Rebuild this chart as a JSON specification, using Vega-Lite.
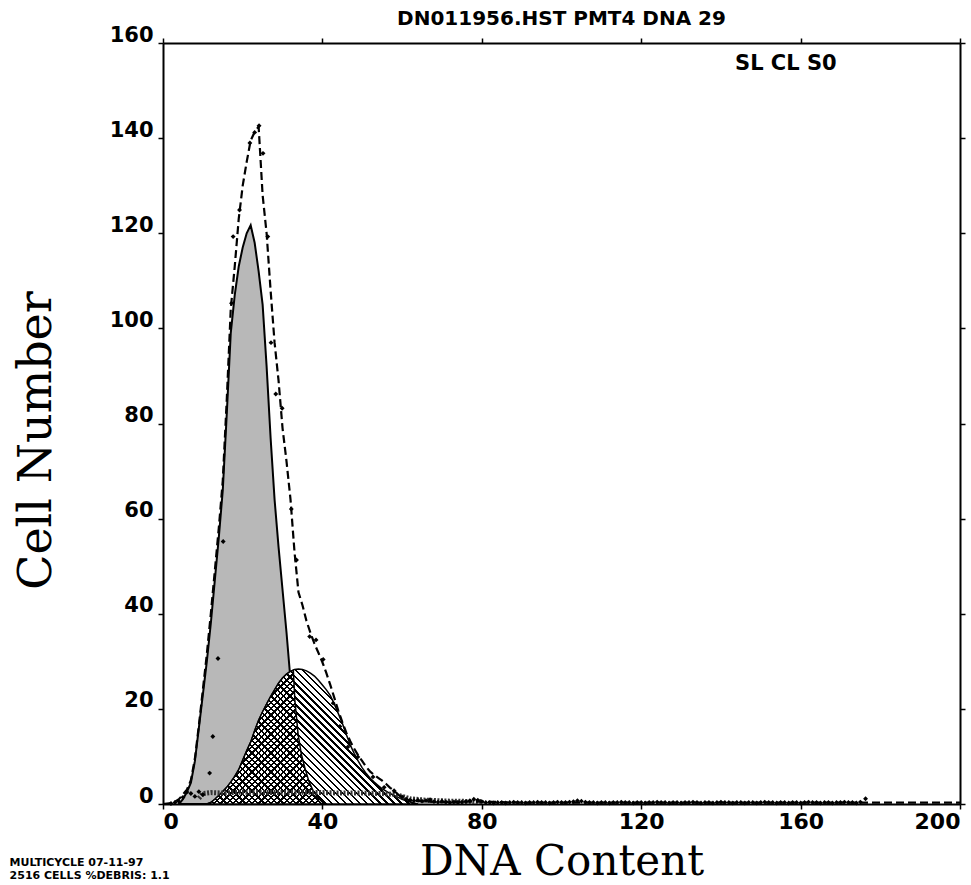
{
  "$schema": "https://vega.github.io/schema/vega-lite/v6.json",
  "width": 797,
  "height": 761,
  "autosize": {"type": "none"},
  "padding": {"left": 163, "top": 43, "right": 11, "bottom": 81},
  "background": "white",
  "config": {
    "view": {"stroke": null},
    "axis": {"domainColor": "black", "domainWidth": 2, "tickColor": "black", "tickWidth": 1.5, "tickSize": 5, "grid": false, "labelColor": "black", "titleColor": "black"}
  },
  "datasets": {
    "g1": [
      {"x": 4, "y": 0}, {"x": 5, "y": 1}, {"x": 6, "y": 2.5}, {"x": 7, "y": 4.5}, {"x": 8, "y": 9}, {"x": 9, "y": 16},
      {"x": 10, "y": 23}, {"x": 11, "y": 30}, {"x": 12, "y": 38}, {"x": 13, "y": 47}, {"x": 14, "y": 56}, {"x": 15, "y": 66},
      {"x": 16, "y": 82}, {"x": 17, "y": 99}, {"x": 18, "y": 107}, {"x": 19, "y": 113}, {"x": 20, "y": 117}, {"x": 21, "y": 120},
      {"x": 22, "y": 121.7}, {"x": 23, "y": 118}, {"x": 24, "y": 112}, {"x": 25, "y": 105}, {"x": 26, "y": 92}, {"x": 27, "y": 77},
      {"x": 28, "y": 64}, {"x": 29, "y": 54}, {"x": 30, "y": 45}, {"x": 31, "y": 36}, {"x": 32, "y": 26}, {"x": 33, "y": 17},
      {"x": 34, "y": 10}, {"x": 35, "y": 5}, {"x": 36, "y": 2}, {"x": 37, "y": 0.5}, {"x": 38, "y": 0}
    ],
    "hump": [
      {"x": 11, "y": 0}, {"x": 12, "y": 0.3}, {"x": 13, "y": 1}, {"x": 14, "y": 1.8}, {"x": 15, "y": 2.6}, {"x": 16, "y": 3.5},
      {"x": 17, "y": 4.6}, {"x": 18, "y": 5.8}, {"x": 19, "y": 7.2}, {"x": 20, "y": 9.2}, {"x": 21, "y": 11.2}, {"x": 22, "y": 13},
      {"x": 23, "y": 15.4}, {"x": 24, "y": 17.6}, {"x": 25, "y": 19.4}, {"x": 26, "y": 21}, {"x": 27, "y": 22.6}, {"x": 28, "y": 24},
      {"x": 29, "y": 25.4}, {"x": 30, "y": 26.5}, {"x": 31, "y": 27.3}, {"x": 32, "y": 27.9}, {"x": 33, "y": 28.3}, {"x": 34, "y": 28.4},
      {"x": 35, "y": 28.3}, {"x": 36, "y": 28}, {"x": 37, "y": 27.5}, {"x": 38, "y": 26.9}, {"x": 39, "y": 26}, {"x": 40, "y": 25},
      {"x": 41, "y": 24}, {"x": 42, "y": 22.8}, {"x": 43, "y": 21}, {"x": 44, "y": 19}, {"x": 45, "y": 17}, {"x": 46, "y": 14.6},
      {"x": 47, "y": 12.4}, {"x": 48, "y": 10.6}, {"x": 49, "y": 9}, {"x": 50, "y": 7.6}, {"x": 51, "y": 6.4}, {"x": 52, "y": 5.4},
      {"x": 53, "y": 4.6}, {"x": 54, "y": 3.9}, {"x": 55, "y": 3.2}, {"x": 56, "y": 2.7}, {"x": 57, "y": 2.2}, {"x": 58, "y": 1.8},
      {"x": 59, "y": 1.4}, {"x": 60, "y": 1}, {"x": 61, "y": 0.7}, {"x": 62, "y": 0.4}, {"x": 63, "y": 0.2}, {"x": 64, "y": 0}
    ],
    "cross": [
      {"x": 11, "y": 0}, {"x": 12, "y": 0.3}, {"x": 13, "y": 1}, {"x": 14, "y": 1.8}, {"x": 15, "y": 2.6}, {"x": 16, "y": 3.5},
      {"x": 17, "y": 4.6}, {"x": 18, "y": 5.8}, {"x": 19, "y": 7.2}, {"x": 20, "y": 9.2}, {"x": 21, "y": 11.2}, {"x": 22, "y": 13},
      {"x": 23, "y": 15.4}, {"x": 24, "y": 17.6}, {"x": 25, "y": 19.4}, {"x": 26, "y": 21}, {"x": 27, "y": 22.6}, {"x": 28, "y": 24},
      {"x": 29, "y": 25.4}, {"x": 30, "y": 26.5}, {"x": 31, "y": 27.3}, {"x": 32, "y": 27.9}, {"x": 32.7, "y": 28.1}, {"x": 33.1, "y": 21.7},
      {"x": 33.9, "y": 14.7}, {"x": 34.7, "y": 10.5}, {"x": 35.6, "y": 7.6}, {"x": 36.6, "y": 4.8}, {"x": 37.7, "y": 2.7}, {"x": 38.9, "y": 1.3},
      {"x": 40, "y": 0.4}, {"x": 41, "y": 0}
    ],
    "debris": [
      {"x": 9, "y": 1.2}, {"x": 10, "y": 2.2}, {"x": 12, "y": 2.4}, {"x": 15, "y": 2.3}, {"x": 20, "y": 2.5}, {"x": 25, "y": 2.4},
      {"x": 30, "y": 2.4}, {"x": 35, "y": 2.5}, {"x": 40, "y": 2.4}, {"x": 45, "y": 2.3}, {"x": 50, "y": 2.3}, {"x": 55, "y": 2.2},
      {"x": 58, "y": 2}, {"x": 60, "y": 1.6}, {"x": 62, "y": 1.1}, {"x": 66, "y": 0.8}, {"x": 72, "y": 0.6}, {"x": 80, "y": 0.5}
    ],
    "fit": [
      {"x": 0, "y": 0}, {"x": 2, "y": 0.2}, {"x": 3, "y": 0.5}, {"x": 4, "y": 1}, {"x": 5, "y": 2}, {"x": 6, "y": 3}, {"x": 7, "y": 5},
      {"x": 8, "y": 9.5}, {"x": 9, "y": 16.5}, {"x": 10, "y": 24}, {"x": 11, "y": 31.5}, {"x": 12, "y": 40}, {"x": 13, "y": 49},
      {"x": 14, "y": 58}, {"x": 15, "y": 68}, {"x": 16, "y": 85}, {"x": 17, "y": 104}, {"x": 18, "y": 113}, {"x": 19, "y": 123},
      {"x": 20, "y": 130}, {"x": 21, "y": 135}, {"x": 22, "y": 139.5}, {"x": 23, "y": 141.3}, {"x": 24, "y": 142.4}, {"x": 25, "y": 128},
      {"x": 26, "y": 120}, {"x": 27, "y": 108}, {"x": 28, "y": 97}, {"x": 29, "y": 89}, {"x": 30, "y": 79}, {"x": 31, "y": 72},
      {"x": 32, "y": 64}, {"x": 33, "y": 53}, {"x": 34, "y": 44.5}, {"x": 35, "y": 41.8}, {"x": 36, "y": 38.5}, {"x": 37, "y": 36},
      {"x": 38, "y": 33.7}, {"x": 39, "y": 31.8}, {"x": 40, "y": 29.8}, {"x": 41, "y": 27.5}, {"x": 42, "y": 25}, {"x": 43, "y": 22.3},
      {"x": 44, "y": 19.6}, {"x": 45, "y": 17.2}, {"x": 46, "y": 15}, {"x": 47, "y": 13.2}, {"x": 48, "y": 11.6}, {"x": 49, "y": 10.2},
      {"x": 50, "y": 9}, {"x": 51, "y": 7.8}, {"x": 52, "y": 6.8}, {"x": 53, "y": 6.1}, {"x": 54, "y": 5.5}, {"x": 55, "y": 4.9},
      {"x": 56, "y": 4.2}, {"x": 57, "y": 3.4}, {"x": 58, "y": 2.8}, {"x": 59, "y": 2}, {"x": 60, "y": 1.3}, {"x": 61, "y": 1},
      {"x": 62, "y": 0.8}, {"x": 64, "y": 0.6}, {"x": 66, "y": 0.5}, {"x": 70, "y": 0.4}, {"x": 75, "y": 0.5}, {"x": 80, "y": 0.5},
      {"x": 90, "y": 0.3}, {"x": 200, "y": 0.3}
    ],
    "dots": [
      {"x": 2, "y": 0.1}, {"x": 3, "y": 0.3}, {"x": 4, "y": 0.5}, {"x": 5, "y": 1.4}, {"x": 6, "y": 2.5}, {"x": 7, "y": 2.2},
      {"x": 8, "y": 1.6}, {"x": 9, "y": 2.6}, {"x": 10, "y": 2}, {"x": 11.7, "y": 6.5}, {"x": 12.5, "y": 14.2}, {"x": 13.8, "y": 30.6},
      {"x": 15.1, "y": 55.2}, {"x": 17.2, "y": 105.3}, {"x": 17.6, "y": 119.3}, {"x": 19.2, "y": 124.9}, {"x": 21.8, "y": 139},
      {"x": 23, "y": 141.2}, {"x": 24.1, "y": 142.6}, {"x": 25.1, "y": 136.8}, {"x": 26.3, "y": 119.3}, {"x": 27.1, "y": 97},
      {"x": 28.3, "y": 86.2}, {"x": 29.9, "y": 83.2}, {"x": 32.2, "y": 62}, {"x": 33.5, "y": 51.3}, {"x": 36.8, "y": 35.2},
      {"x": 38.4, "y": 34.5}, {"x": 40.2, "y": 30.4}, {"x": 42.7, "y": 21.2}, {"x": 44.4, "y": 16.3}, {"x": 46.4, "y": 12},
      {"x": 48.9, "y": 9.9}, {"x": 52.7, "y": 5.7}, {"x": 55.5, "y": 3.5}, {"x": 58, "y": 2.8}, {"x": 60, "y": 1.5},
      {"x": 61, "y": 1.0}, {"x": 62, "y": 0.8}, {"x": 63, "y": 0.7}, {"x": 64, "y": 0.8}, {"x": 65, "y": 0.6}, {"x": 66, "y": 0.7},
      {"x": 67, "y": 0.9}, {"x": 68, "y": 0.5}, {"x": 69, "y": 0.4}, {"x": 70, "y": 0.6}, {"x": 71, "y": 0.4}, {"x": 72, "y": 0.3},
      {"x": 73, "y": 0.4}, {"x": 74, "y": 0.3}, {"x": 75, "y": 0.4}, {"x": 76, "y": 0.5}, {"x": 77, "y": 0.7}, {"x": 78, "y": 1.0},
      {"x": 79, "y": 0.8}, {"x": 80, "y": 0.5}, {"x": 81, "y": 0.3}, {"x": 82, "y": 0.3}, {"x": 83, "y": 0.2}, {"x": 84, "y": 0.3},
      {"x": 85, "y": 0.3}, {"x": 86, "y": 0.2}, {"x": 87, "y": 0.3}, {"x": 88, "y": 0.4}, {"x": 89, "y": 0.3}, {"x": 90, "y": 0.3},
      {"x": 91, "y": 0.2}, {"x": 92, "y": 0.3}, {"x": 93, "y": 0.3}, {"x": 94, "y": 0.4}, {"x": 95, "y": 0.3}, {"x": 96, "y": 0.3},
      {"x": 97, "y": 0.2}, {"x": 98, "y": 0.3}, {"x": 99, "y": 0.4}, {"x": 100, "y": 0.3}, {"x": 101, "y": 0.3}, {"x": 102, "y": 0.4},
      {"x": 103, "y": 0.5}, {"x": 104, "y": 0.7}, {"x": 105, "y": 0.6}, {"x": 106, "y": 0.4}, {"x": 107, "y": 0.3}, {"x": 108, "y": 0.3},
      {"x": 109, "y": 0.2}, {"x": 110, "y": 0.3}, {"x": 111, "y": 0.3}, {"x": 112, "y": 0.2}, {"x": 113, "y": 0.3}, {"x": 114, "y": 0.3},
      {"x": 115, "y": 0.4}, {"x": 116, "y": 0.3}, {"x": 117, "y": 0.3}, {"x": 118, "y": 0.2}, {"x": 119, "y": 0.3}, {"x": 120, "y": 0.3},
      {"x": 121, "y": 0.2}, {"x": 122, "y": 0.3}, {"x": 123, "y": 0.3}, {"x": 124, "y": 0.4}, {"x": 125, "y": 0.3}, {"x": 126, "y": 0.3},
      {"x": 127, "y": 0.2}, {"x": 128, "y": 0.3}, {"x": 129, "y": 0.3}, {"x": 130, "y": 0.2}, {"x": 131, "y": 0.3}, {"x": 132, "y": 0.3},
      {"x": 133, "y": 0.4}, {"x": 134, "y": 0.3}, {"x": 135, "y": 0.2}, {"x": 136, "y": 0.3}, {"x": 137, "y": 0.3}, {"x": 138, "y": 0.2},
      {"x": 139, "y": 0.3}, {"x": 140, "y": 0.4}, {"x": 141, "y": 0.3}, {"x": 142, "y": 0.3}, {"x": 143, "y": 0.2}, {"x": 144, "y": 0.3},
      {"x": 145, "y": 0.3}, {"x": 146, "y": 0.2}, {"x": 147, "y": 0.3}, {"x": 148, "y": 0.3}, {"x": 149, "y": 0.2}, {"x": 150, "y": 0.3},
      {"x": 151, "y": 0.4}, {"x": 152, "y": 0.3}, {"x": 153, "y": 0.3}, {"x": 154, "y": 0.2}, {"x": 155, "y": 0.3}, {"x": 156, "y": 0.3},
      {"x": 157, "y": 0.2}, {"x": 158, "y": 0.3}, {"x": 159, "y": 0.3}, {"x": 160, "y": 0.2}, {"x": 161, "y": 0.3}, {"x": 162, "y": 0.4},
      {"x": 163, "y": 0.3}, {"x": 164, "y": 0.3}, {"x": 165, "y": 0.2}, {"x": 166, "y": 0.3}, {"x": 167, "y": 0.3}, {"x": 168, "y": 0.2},
      {"x": 169, "y": 0.3}, {"x": 170, "y": 0.3}, {"x": 171, "y": 0.4}, {"x": 172, "y": 0.3}, {"x": 173, "y": 0.3}, {"x": 174, "y": 0.2},
      {"x": 175, "y": 0.4}, {"x": 176.3, "y": 1.1}
    ]
  },
  "layer": [
    {
      "data": {"name": "g1"},
      "mark": {"type": "area", "fill": "#b8b8b8", "stroke": "black", "strokeWidth": 2},
      "encoding": {
        "x": {"field": "x", "type": "quantitative", "scale": {"domain": [0, 200], "nice": false},
          "axis": {"orient": "bottom", "values": [0, 40, 80, 120, 160, 200], "labelFont": "DejaVu Sans", "labelFontWeight": "bold", "labelFontSize": 22, "labelPadding": 2, "labelFlush": true,
            "title": "DNA Content", "titleFont": "DejaVu Serif", "titleFontSize": 42, "titleFontWeight": "normal", "titleBaseline": "alphabetic", "titleY": 70}},
        "y": {"field": "y", "type": "quantitative", "scale": {"domain": [0, 160], "nice": false},
          "axis": {"orient": "left", "values": [0, 20, 40, 60, 80, 100, 120, 140, 160], "labelFont": "DejaVu Sans", "labelFontWeight": "bold", "labelFontSize": 21, "labelPadding": 5, "labelBaseline": "alphabetic", "labelOffset": -2,
            "title": "Cell Number", "titleFont": "DejaVu Serif", "titleFontSize": 46, "titleFontWeight": "normal", "titleBaseline": "alphabetic", "titleX": -113, "titleY": 397}}
      }
    },
    {
      "data": {"name": "hump"},
      "mark": {"type": "area", "stroke": "black", "strokeWidth": 1.5,
        "fill": {"gradient": "linear", "x1": 0, "y1": 1, "x2": 1.1636, "y2": 0.2557, "stops": [
          {"offset": 0, "color": "#000"}, {"offset": 0.007, "color": "#000"}, {"offset": 0.007, "color": "#fff"}, {"offset": 0.02, "color": "#fff"},
          {"offset": 0.02, "color": "#000"}, {"offset": 0.027, "color": "#000"}, {"offset": 0.027, "color": "#fff"}, {"offset": 0.04, "color": "#fff"},
          {"offset": 0.04, "color": "#000"}, {"offset": 0.047, "color": "#000"}, {"offset": 0.047, "color": "#fff"}, {"offset": 0.06, "color": "#fff"},
          {"offset": 0.06, "color": "#000"}, {"offset": 0.067, "color": "#000"}, {"offset": 0.067, "color": "#fff"}, {"offset": 0.08, "color": "#fff"},
          {"offset": 0.08, "color": "#000"}, {"offset": 0.087, "color": "#000"}, {"offset": 0.087, "color": "#fff"}, {"offset": 0.1, "color": "#fff"},
          {"offset": 0.1, "color": "#000"}, {"offset": 0.107, "color": "#000"}, {"offset": 0.107, "color": "#fff"}, {"offset": 0.12, "color": "#fff"},
          {"offset": 0.12, "color": "#000"}, {"offset": 0.127, "color": "#000"}, {"offset": 0.127, "color": "#fff"}, {"offset": 0.14, "color": "#fff"},
          {"offset": 0.14, "color": "#000"}, {"offset": 0.147, "color": "#000"}, {"offset": 0.147, "color": "#fff"}, {"offset": 0.16, "color": "#fff"},
          {"offset": 0.16, "color": "#000"}, {"offset": 0.167, "color": "#000"}, {"offset": 0.167, "color": "#fff"}, {"offset": 0.18, "color": "#fff"},
          {"offset": 0.18, "color": "#000"}, {"offset": 0.187, "color": "#000"}, {"offset": 0.187, "color": "#fff"}, {"offset": 0.2, "color": "#fff"},
          {"offset": 0.2, "color": "#000"}, {"offset": 0.207, "color": "#000"}, {"offset": 0.207, "color": "#fff"}, {"offset": 0.22, "color": "#fff"},
          {"offset": 0.22, "color": "#000"}, {"offset": 0.227, "color": "#000"}, {"offset": 0.227, "color": "#fff"}, {"offset": 0.24, "color": "#fff"},
          {"offset": 0.24, "color": "#000"}, {"offset": 0.247, "color": "#000"}, {"offset": 0.247, "color": "#fff"}, {"offset": 0.26, "color": "#fff"},
          {"offset": 0.26, "color": "#000"}, {"offset": 0.267, "color": "#000"}, {"offset": 0.267, "color": "#fff"}, {"offset": 0.28, "color": "#fff"},
          {"offset": 0.28, "color": "#000"}, {"offset": 0.287, "color": "#000"}, {"offset": 0.287, "color": "#fff"}, {"offset": 0.3, "color": "#fff"},
          {"offset": 0.3, "color": "#000"}, {"offset": 0.307, "color": "#000"}, {"offset": 0.307, "color": "#fff"}, {"offset": 0.32, "color": "#fff"},
          {"offset": 0.32, "color": "#000"}, {"offset": 0.327, "color": "#000"}, {"offset": 0.327, "color": "#fff"}, {"offset": 0.34, "color": "#fff"},
          {"offset": 0.34, "color": "#000"}, {"offset": 0.347, "color": "#000"}, {"offset": 0.347, "color": "#fff"}, {"offset": 0.36, "color": "#fff"},
          {"offset": 0.36, "color": "#000"}, {"offset": 0.367, "color": "#000"}, {"offset": 0.367, "color": "#fff"}, {"offset": 0.38, "color": "#fff"},
          {"offset": 0.38, "color": "#000"}, {"offset": 0.387, "color": "#000"}, {"offset": 0.387, "color": "#fff"}, {"offset": 0.4, "color": "#fff"},
          {"offset": 0.4, "color": "#000"}, {"offset": 0.407, "color": "#000"}, {"offset": 0.407, "color": "#fff"}, {"offset": 0.42, "color": "#fff"},
          {"offset": 0.42, "color": "#000"}, {"offset": 0.427, "color": "#000"}, {"offset": 0.427, "color": "#fff"}, {"offset": 0.44, "color": "#fff"},
          {"offset": 0.44, "color": "#000"}, {"offset": 0.447, "color": "#000"}, {"offset": 0.447, "color": "#fff"}, {"offset": 0.46, "color": "#fff"},
          {"offset": 0.46, "color": "#000"}, {"offset": 0.467, "color": "#000"}, {"offset": 0.467, "color": "#fff"}, {"offset": 0.48, "color": "#fff"},
          {"offset": 0.48, "color": "#000"}, {"offset": 0.487, "color": "#000"}, {"offset": 0.487, "color": "#fff"}, {"offset": 0.5, "color": "#fff"},
          {"offset": 0.5, "color": "#000"}, {"offset": 0.507, "color": "#000"}, {"offset": 0.507, "color": "#fff"}, {"offset": 0.52, "color": "#fff"},
          {"offset": 0.52, "color": "#000"}, {"offset": 0.527, "color": "#000"}, {"offset": 0.527, "color": "#fff"}, {"offset": 0.54, "color": "#fff"},
          {"offset": 0.54, "color": "#000"}, {"offset": 0.547, "color": "#000"}, {"offset": 0.547, "color": "#fff"}, {"offset": 0.56, "color": "#fff"},
          {"offset": 0.56, "color": "#000"}, {"offset": 0.567, "color": "#000"}, {"offset": 0.567, "color": "#fff"}, {"offset": 0.58, "color": "#fff"},
          {"offset": 0.58, "color": "#000"}, {"offset": 0.587, "color": "#000"}, {"offset": 0.587, "color": "#fff"}, {"offset": 0.6, "color": "#fff"},
          {"offset": 0.6, "color": "#000"}, {"offset": 0.607, "color": "#000"}, {"offset": 0.607, "color": "#fff"}, {"offset": 0.62, "color": "#fff"},
          {"offset": 0.62, "color": "#000"}, {"offset": 0.627, "color": "#000"}, {"offset": 0.627, "color": "#fff"}, {"offset": 0.64, "color": "#fff"},
          {"offset": 0.64, "color": "#000"}, {"offset": 0.647, "color": "#000"}, {"offset": 0.647, "color": "#fff"}, {"offset": 0.66, "color": "#fff"},
          {"offset": 0.66, "color": "#000"}, {"offset": 0.667, "color": "#000"}, {"offset": 0.667, "color": "#fff"}, {"offset": 0.68, "color": "#fff"},
          {"offset": 0.68, "color": "#000"}, {"offset": 0.687, "color": "#000"}, {"offset": 0.687, "color": "#fff"}, {"offset": 0.7, "color": "#fff"},
          {"offset": 0.7, "color": "#000"}, {"offset": 0.707, "color": "#000"}, {"offset": 0.707, "color": "#fff"}, {"offset": 0.72, "color": "#fff"},
          {"offset": 0.72, "color": "#000"}, {"offset": 0.727, "color": "#000"}, {"offset": 0.727, "color": "#fff"}, {"offset": 0.74, "color": "#fff"},
          {"offset": 0.74, "color": "#000"}, {"offset": 0.747, "color": "#000"}, {"offset": 0.747, "color": "#fff"}, {"offset": 0.76, "color": "#fff"},
          {"offset": 0.76, "color": "#000"}, {"offset": 0.767, "color": "#000"}, {"offset": 0.767, "color": "#fff"}, {"offset": 0.78, "color": "#fff"},
          {"offset": 0.78, "color": "#000"}, {"offset": 0.787, "color": "#000"}, {"offset": 0.787, "color": "#fff"}, {"offset": 0.8, "color": "#fff"},
          {"offset": 0.8, "color": "#000"}, {"offset": 0.807, "color": "#000"}, {"offset": 0.807, "color": "#fff"}, {"offset": 0.82, "color": "#fff"},
          {"offset": 0.82, "color": "#000"}, {"offset": 0.827, "color": "#000"}, {"offset": 0.827, "color": "#fff"}, {"offset": 0.84, "color": "#fff"},
          {"offset": 0.84, "color": "#000"}, {"offset": 0.847, "color": "#000"}, {"offset": 0.847, "color": "#fff"}, {"offset": 0.86, "color": "#fff"},
          {"offset": 0.86, "color": "#000"}, {"offset": 0.867, "color": "#000"}, {"offset": 0.867, "color": "#fff"}, {"offset": 0.88, "color": "#fff"},
          {"offset": 0.88, "color": "#000"}, {"offset": 0.887, "color": "#000"}, {"offset": 0.887, "color": "#fff"}, {"offset": 0.9, "color": "#fff"},
          {"offset": 0.9, "color": "#000"}, {"offset": 0.907, "color": "#000"}, {"offset": 0.907, "color": "#fff"}, {"offset": 0.92, "color": "#fff"},
          {"offset": 0.92, "color": "#000"}, {"offset": 0.927, "color": "#000"}, {"offset": 0.927, "color": "#fff"}, {"offset": 0.94, "color": "#fff"},
          {"offset": 0.94, "color": "#000"}, {"offset": 0.947, "color": "#000"}, {"offset": 0.947, "color": "#fff"}, {"offset": 0.96, "color": "#fff"},
          {"offset": 0.96, "color": "#000"}, {"offset": 0.967, "color": "#000"}, {"offset": 0.967, "color": "#fff"}, {"offset": 0.98, "color": "#fff"},
          {"offset": 0.98, "color": "#000"}, {"offset": 0.987, "color": "#000"}, {"offset": 0.987, "color": "#fff"}, {"offset": 1, "color": "#fff"}
        ]}},
      "encoding": {
        "x": {"field": "x", "type": "quantitative", "scale": {"domain": [0, 200], "nice": false},
          "axis": {"orient": "top", "values": [0, 40, 80, 120, 160, 200], "labels": false, "title": null}},
        "y": {"field": "y", "type": "quantitative", "scale": {"domain": [0, 160], "nice": false},
          "axis": {"orient": "right", "values": [0, 20, 40, 60, 80, 100, 120, 140, 160], "labels": false, "title": null}}
      }
    },
    {
      "data": {"name": "cross"},
      "mark": {"type": "area", "stroke": "black", "strokeWidth": 1.5,
        "fill": {"gradient": "linear", "x1": 0, "y1": 1, "x2": 0.9418, "y2": -0.052, "stops": [
          {"offset": 0, "color": "#000"}, {"offset": 0.009, "color": "#000"}, {"offset": 0.009, "color": "#fff"}, {"offset": 0.025, "color": "#fff"},
          {"offset": 0.025, "color": "#000"}, {"offset": 0.034, "color": "#000"}, {"offset": 0.034, "color": "#fff"}, {"offset": 0.05, "color": "#fff"},
          {"offset": 0.05, "color": "#000"}, {"offset": 0.059, "color": "#000"}, {"offset": 0.059, "color": "#fff"}, {"offset": 0.075, "color": "#fff"},
          {"offset": 0.075, "color": "#000"}, {"offset": 0.084, "color": "#000"}, {"offset": 0.084, "color": "#fff"}, {"offset": 0.1, "color": "#fff"},
          {"offset": 0.1, "color": "#000"}, {"offset": 0.109, "color": "#000"}, {"offset": 0.109, "color": "#fff"}, {"offset": 0.125, "color": "#fff"},
          {"offset": 0.125, "color": "#000"}, {"offset": 0.134, "color": "#000"}, {"offset": 0.134, "color": "#fff"}, {"offset": 0.15, "color": "#fff"},
          {"offset": 0.15, "color": "#000"}, {"offset": 0.159, "color": "#000"}, {"offset": 0.159, "color": "#fff"}, {"offset": 0.175, "color": "#fff"},
          {"offset": 0.175, "color": "#000"}, {"offset": 0.184, "color": "#000"}, {"offset": 0.184, "color": "#fff"}, {"offset": 0.2, "color": "#fff"},
          {"offset": 0.2, "color": "#000"}, {"offset": 0.209, "color": "#000"}, {"offset": 0.209, "color": "#fff"}, {"offset": 0.225, "color": "#fff"},
          {"offset": 0.225, "color": "#000"}, {"offset": 0.234, "color": "#000"}, {"offset": 0.234, "color": "#fff"}, {"offset": 0.25, "color": "#fff"},
          {"offset": 0.25, "color": "#000"}, {"offset": 0.259, "color": "#000"}, {"offset": 0.259, "color": "#fff"}, {"offset": 0.275, "color": "#fff"},
          {"offset": 0.275, "color": "#000"}, {"offset": 0.284, "color": "#000"}, {"offset": 0.284, "color": "#fff"}, {"offset": 0.3, "color": "#fff"},
          {"offset": 0.3, "color": "#000"}, {"offset": 0.309, "color": "#000"}, {"offset": 0.309, "color": "#fff"}, {"offset": 0.325, "color": "#fff"},
          {"offset": 0.325, "color": "#000"}, {"offset": 0.334, "color": "#000"}, {"offset": 0.334, "color": "#fff"}, {"offset": 0.35, "color": "#fff"},
          {"offset": 0.35, "color": "#000"}, {"offset": 0.359, "color": "#000"}, {"offset": 0.359, "color": "#fff"}, {"offset": 0.375, "color": "#fff"},
          {"offset": 0.375, "color": "#000"}, {"offset": 0.384, "color": "#000"}, {"offset": 0.384, "color": "#fff"}, {"offset": 0.4, "color": "#fff"},
          {"offset": 0.4, "color": "#000"}, {"offset": 0.409, "color": "#000"}, {"offset": 0.409, "color": "#fff"}, {"offset": 0.425, "color": "#fff"},
          {"offset": 0.425, "color": "#000"}, {"offset": 0.434, "color": "#000"}, {"offset": 0.434, "color": "#fff"}, {"offset": 0.45, "color": "#fff"},
          {"offset": 0.45, "color": "#000"}, {"offset": 0.459, "color": "#000"}, {"offset": 0.459, "color": "#fff"}, {"offset": 0.475, "color": "#fff"},
          {"offset": 0.475, "color": "#000"}, {"offset": 0.484, "color": "#000"}, {"offset": 0.484, "color": "#fff"}, {"offset": 0.5, "color": "#fff"},
          {"offset": 0.5, "color": "#000"}, {"offset": 0.509, "color": "#000"}, {"offset": 0.509, "color": "#fff"}, {"offset": 0.525, "color": "#fff"},
          {"offset": 0.525, "color": "#000"}, {"offset": 0.534, "color": "#000"}, {"offset": 0.534, "color": "#fff"}, {"offset": 0.55, "color": "#fff"},
          {"offset": 0.55, "color": "#000"}, {"offset": 0.559, "color": "#000"}, {"offset": 0.559, "color": "#fff"}, {"offset": 0.575, "color": "#fff"},
          {"offset": 0.575, "color": "#000"}, {"offset": 0.584, "color": "#000"}, {"offset": 0.584, "color": "#fff"}, {"offset": 0.6, "color": "#fff"},
          {"offset": 0.6, "color": "#000"}, {"offset": 0.609, "color": "#000"}, {"offset": 0.609, "color": "#fff"}, {"offset": 0.625, "color": "#fff"},
          {"offset": 0.625, "color": "#000"}, {"offset": 0.634, "color": "#000"}, {"offset": 0.634, "color": "#fff"}, {"offset": 0.65, "color": "#fff"},
          {"offset": 0.65, "color": "#000"}, {"offset": 0.659, "color": "#000"}, {"offset": 0.659, "color": "#fff"}, {"offset": 0.675, "color": "#fff"},
          {"offset": 0.675, "color": "#000"}, {"offset": 0.684, "color": "#000"}, {"offset": 0.684, "color": "#fff"}, {"offset": 0.7, "color": "#fff"},
          {"offset": 0.7, "color": "#000"}, {"offset": 0.709, "color": "#000"}, {"offset": 0.709, "color": "#fff"}, {"offset": 0.725, "color": "#fff"},
          {"offset": 0.725, "color": "#000"}, {"offset": 0.734, "color": "#000"}, {"offset": 0.734, "color": "#fff"}, {"offset": 0.75, "color": "#fff"},
          {"offset": 0.75, "color": "#000"}, {"offset": 0.759, "color": "#000"}, {"offset": 0.759, "color": "#fff"}, {"offset": 0.775, "color": "#fff"},
          {"offset": 0.775, "color": "#000"}, {"offset": 0.784, "color": "#000"}, {"offset": 0.784, "color": "#fff"}, {"offset": 0.8, "color": "#fff"},
          {"offset": 0.8, "color": "#000"}, {"offset": 0.809, "color": "#000"}, {"offset": 0.809, "color": "#fff"}, {"offset": 0.825, "color": "#fff"},
          {"offset": 0.825, "color": "#000"}, {"offset": 0.834, "color": "#000"}, {"offset": 0.834, "color": "#fff"}, {"offset": 0.85, "color": "#fff"},
          {"offset": 0.85, "color": "#000"}, {"offset": 0.859, "color": "#000"}, {"offset": 0.859, "color": "#fff"}, {"offset": 0.875, "color": "#fff"},
          {"offset": 0.875, "color": "#000"}, {"offset": 0.884, "color": "#000"}, {"offset": 0.884, "color": "#fff"}, {"offset": 0.9, "color": "#fff"},
          {"offset": 0.9, "color": "#000"}, {"offset": 0.909, "color": "#000"}, {"offset": 0.909, "color": "#fff"}, {"offset": 0.925, "color": "#fff"},
          {"offset": 0.925, "color": "#000"}, {"offset": 0.934, "color": "#000"}, {"offset": 0.934, "color": "#fff"}, {"offset": 0.95, "color": "#fff"},
          {"offset": 0.95, "color": "#000"}, {"offset": 0.959, "color": "#000"}, {"offset": 0.959, "color": "#fff"}, {"offset": 0.975, "color": "#fff"},
          {"offset": 0.975, "color": "#000"}, {"offset": 0.984, "color": "#000"}, {"offset": 0.984, "color": "#fff"}, {"offset": 1, "color": "#fff"}
        ]}},
      "encoding": {
        "x": {"field": "x", "type": "quantitative", "axis": null},
        "y": {"field": "y", "type": "quantitative", "axis": null}
      }
    },
    {
      "data": {"name": "cross"},
      "mark": {"type": "area", "strokeWidth": 0,
        "fill": {"gradient": "linear", "x1": 0, "y1": 0, "x2": 0.9418, "y2": 1.052, "stops": [
          {"offset": 0, "color": "#000"}, {"offset": 0.009, "color": "#000"}, {"offset": 0.009, "color": "rgba(255,255,255,0)"}, {"offset": 0.025, "color": "rgba(255,255,255,0)"},
          {"offset": 0.025, "color": "#000"}, {"offset": 0.034, "color": "#000"}, {"offset": 0.034, "color": "rgba(255,255,255,0)"}, {"offset": 0.05, "color": "rgba(255,255,255,0)"},
          {"offset": 0.05, "color": "#000"}, {"offset": 0.059, "color": "#000"}, {"offset": 0.059, "color": "rgba(255,255,255,0)"}, {"offset": 0.075, "color": "rgba(255,255,255,0)"},
          {"offset": 0.075, "color": "#000"}, {"offset": 0.084, "color": "#000"}, {"offset": 0.084, "color": "rgba(255,255,255,0)"}, {"offset": 0.1, "color": "rgba(255,255,255,0)"},
          {"offset": 0.1, "color": "#000"}, {"offset": 0.109, "color": "#000"}, {"offset": 0.109, "color": "rgba(255,255,255,0)"}, {"offset": 0.125, "color": "rgba(255,255,255,0)"},
          {"offset": 0.125, "color": "#000"}, {"offset": 0.134, "color": "#000"}, {"offset": 0.134, "color": "rgba(255,255,255,0)"}, {"offset": 0.15, "color": "rgba(255,255,255,0)"},
          {"offset": 0.15, "color": "#000"}, {"offset": 0.159, "color": "#000"}, {"offset": 0.159, "color": "rgba(255,255,255,0)"}, {"offset": 0.175, "color": "rgba(255,255,255,0)"},
          {"offset": 0.175, "color": "#000"}, {"offset": 0.184, "color": "#000"}, {"offset": 0.184, "color": "rgba(255,255,255,0)"}, {"offset": 0.2, "color": "rgba(255,255,255,0)"},
          {"offset": 0.2, "color": "#000"}, {"offset": 0.209, "color": "#000"}, {"offset": 0.209, "color": "rgba(255,255,255,0)"}, {"offset": 0.225, "color": "rgba(255,255,255,0)"},
          {"offset": 0.225, "color": "#000"}, {"offset": 0.234, "color": "#000"}, {"offset": 0.234, "color": "rgba(255,255,255,0)"}, {"offset": 0.25, "color": "rgba(255,255,255,0)"},
          {"offset": 0.25, "color": "#000"}, {"offset": 0.259, "color": "#000"}, {"offset": 0.259, "color": "rgba(255,255,255,0)"}, {"offset": 0.275, "color": "rgba(255,255,255,0)"},
          {"offset": 0.275, "color": "#000"}, {"offset": 0.284, "color": "#000"}, {"offset": 0.284, "color": "rgba(255,255,255,0)"}, {"offset": 0.3, "color": "rgba(255,255,255,0)"},
          {"offset": 0.3, "color": "#000"}, {"offset": 0.309, "color": "#000"}, {"offset": 0.309, "color": "rgba(255,255,255,0)"}, {"offset": 0.325, "color": "rgba(255,255,255,0)"},
          {"offset": 0.325, "color": "#000"}, {"offset": 0.334, "color": "#000"}, {"offset": 0.334, "color": "rgba(255,255,255,0)"}, {"offset": 0.35, "color": "rgba(255,255,255,0)"},
          {"offset": 0.35, "color": "#000"}, {"offset": 0.359, "color": "#000"}, {"offset": 0.359, "color": "rgba(255,255,255,0)"}, {"offset": 0.375, "color": "rgba(255,255,255,0)"},
          {"offset": 0.375, "color": "#000"}, {"offset": 0.384, "color": "#000"}, {"offset": 0.384, "color": "rgba(255,255,255,0)"}, {"offset": 0.4, "color": "rgba(255,255,255,0)"},
          {"offset": 0.4, "color": "#000"}, {"offset": 0.409, "color": "#000"}, {"offset": 0.409, "color": "rgba(255,255,255,0)"}, {"offset": 0.425, "color": "rgba(255,255,255,0)"},
          {"offset": 0.425, "color": "#000"}, {"offset": 0.434, "color": "#000"}, {"offset": 0.434, "color": "rgba(255,255,255,0)"}, {"offset": 0.45, "color": "rgba(255,255,255,0)"},
          {"offset": 0.45, "color": "#000"}, {"offset": 0.459, "color": "#000"}, {"offset": 0.459, "color": "rgba(255,255,255,0)"}, {"offset": 0.475, "color": "rgba(255,255,255,0)"},
          {"offset": 0.475, "color": "#000"}, {"offset": 0.484, "color": "#000"}, {"offset": 0.484, "color": "rgba(255,255,255,0)"}, {"offset": 0.5, "color": "rgba(255,255,255,0)"},
          {"offset": 0.5, "color": "#000"}, {"offset": 0.509, "color": "#000"}, {"offset": 0.509, "color": "rgba(255,255,255,0)"}, {"offset": 0.525, "color": "rgba(255,255,255,0)"},
          {"offset": 0.525, "color": "#000"}, {"offset": 0.534, "color": "#000"}, {"offset": 0.534, "color": "rgba(255,255,255,0)"}, {"offset": 0.55, "color": "rgba(255,255,255,0)"},
          {"offset": 0.55, "color": "#000"}, {"offset": 0.559, "color": "#000"}, {"offset": 0.559, "color": "rgba(255,255,255,0)"}, {"offset": 0.575, "color": "rgba(255,255,255,0)"},
          {"offset": 0.575, "color": "#000"}, {"offset": 0.584, "color": "#000"}, {"offset": 0.584, "color": "rgba(255,255,255,0)"}, {"offset": 0.6, "color": "rgba(255,255,255,0)"},
          {"offset": 0.6, "color": "#000"}, {"offset": 0.609, "color": "#000"}, {"offset": 0.609, "color": "rgba(255,255,255,0)"}, {"offset": 0.625, "color": "rgba(255,255,255,0)"},
          {"offset": 0.625, "color": "#000"}, {"offset": 0.634, "color": "#000"}, {"offset": 0.634, "color": "rgba(255,255,255,0)"}, {"offset": 0.65, "color": "rgba(255,255,255,0)"},
          {"offset": 0.65, "color": "#000"}, {"offset": 0.659, "color": "#000"}, {"offset": 0.659, "color": "rgba(255,255,255,0)"}, {"offset": 0.675, "color": "rgba(255,255,255,0)"},
          {"offset": 0.675, "color": "#000"}, {"offset": 0.684, "color": "#000"}, {"offset": 0.684, "color": "rgba(255,255,255,0)"}, {"offset": 0.7, "color": "rgba(255,255,255,0)"},
          {"offset": 0.7, "color": "#000"}, {"offset": 0.709, "color": "#000"}, {"offset": 0.709, "color": "rgba(255,255,255,0)"}, {"offset": 0.725, "color": "rgba(255,255,255,0)"},
          {"offset": 0.725, "color": "#000"}, {"offset": 0.734, "color": "#000"}, {"offset": 0.734, "color": "rgba(255,255,255,0)"}, {"offset": 0.75, "color": "rgba(255,255,255,0)"},
          {"offset": 0.75, "color": "#000"}, {"offset": 0.759, "color": "#000"}, {"offset": 0.759, "color": "rgba(255,255,255,0)"}, {"offset": 0.775, "color": "rgba(255,255,255,0)"},
          {"offset": 0.775, "color": "#000"}, {"offset": 0.784, "color": "#000"}, {"offset": 0.784, "color": "rgba(255,255,255,0)"}, {"offset": 0.8, "color": "rgba(255,255,255,0)"},
          {"offset": 0.8, "color": "#000"}, {"offset": 0.809, "color": "#000"}, {"offset": 0.809, "color": "rgba(255,255,255,0)"}, {"offset": 0.825, "color": "rgba(255,255,255,0)"},
          {"offset": 0.825, "color": "#000"}, {"offset": 0.834, "color": "#000"}, {"offset": 0.834, "color": "rgba(255,255,255,0)"}, {"offset": 0.85, "color": "rgba(255,255,255,0)"},
          {"offset": 0.85, "color": "#000"}, {"offset": 0.859, "color": "#000"}, {"offset": 0.859, "color": "rgba(255,255,255,0)"}, {"offset": 0.875, "color": "rgba(255,255,255,0)"},
          {"offset": 0.875, "color": "#000"}, {"offset": 0.884, "color": "#000"}, {"offset": 0.884, "color": "rgba(255,255,255,0)"}, {"offset": 0.9, "color": "rgba(255,255,255,0)"},
          {"offset": 0.9, "color": "#000"}, {"offset": 0.909, "color": "#000"}, {"offset": 0.909, "color": "rgba(255,255,255,0)"}, {"offset": 0.925, "color": "rgba(255,255,255,0)"},
          {"offset": 0.925, "color": "#000"}, {"offset": 0.934, "color": "#000"}, {"offset": 0.934, "color": "rgba(255,255,255,0)"}, {"offset": 0.95, "color": "rgba(255,255,255,0)"},
          {"offset": 0.95, "color": "#000"}, {"offset": 0.959, "color": "#000"}, {"offset": 0.959, "color": "rgba(255,255,255,0)"}, {"offset": 0.975, "color": "rgba(255,255,255,0)"},
          {"offset": 0.975, "color": "#000"}, {"offset": 0.984, "color": "#000"}, {"offset": 0.984, "color": "rgba(255,255,255,0)"}, {"offset": 1, "color": "rgba(255,255,255,0)"}
        ]}},
      "encoding": {
        "x": {"field": "x", "type": "quantitative", "axis": null},
        "y": {"field": "y", "type": "quantitative", "axis": null}
      }
    },
    {
      "data": {"name": "debris"},
      "mark": {"type": "line", "color": "#333", "strokeWidth": 5, "strokeDash": [2, 1.5]},
      "encoding": {
        "x": {"field": "x", "type": "quantitative", "axis": null},
        "y": {"field": "y", "type": "quantitative", "axis": null}
      }
    },
    {
      "data": {"name": "fit"},
      "mark": {"type": "line", "color": "black", "strokeWidth": 2.2, "strokeDash": [8, 4]},
      "encoding": {
        "x": {"field": "x", "type": "quantitative", "axis": null},
        "y": {"field": "y", "type": "quantitative", "axis": null}
      }
    },
    {
      "data": {"name": "dots"},
      "mark": {"type": "point", "shape": "diamond", "filled": true, "size": 24, "color": "black", "opacity": 1},
      "encoding": {
        "x": {"field": "x", "type": "quantitative", "axis": null},
        "y": {"field": "y", "type": "quantitative", "axis": null}
      }
    },
    {
      "data": {"values": [{}]},
      "mark": {"type": "text", "text": "DN011956.HST PMT4 DNA 29", "font": "DejaVu Sans", "fontSize": 20, "fontWeight": "bold", "align": "center", "baseline": "alphabetic", "color": "black"},
      "encoding": {
        "x": {"datum": 100, "type": "quantitative", "axis": null},
        "y": {"datum": 163.8, "type": "quantitative", "axis": null}
      }
    },
    {
      "data": {"values": [{}]},
      "mark": {"type": "text", "text": "SL CL S0", "font": "DejaVu Sans", "fontSize": 21, "fontWeight": "bold", "align": "center", "baseline": "alphabetic", "color": "black"},
      "encoding": {
        "x": {"datum": 156.3, "type": "quantitative", "axis": null},
        "y": {"datum": 154.3, "type": "quantitative", "axis": null}
      }
    },
    {
      "data": {"values": [{}]},
      "mark": {"type": "text", "text": ["MULTICYCLE 07-11-97", "2516 CELLS %DEBRIS: 1.1"], "font": "DejaVu Sans", "fontSize": 11, "fontWeight": "bold", "lineHeight": 13, "align": "left", "baseline": "alphabetic", "color": "black"},
      "encoding": {
        "x": {"datum": -38.5, "type": "quantitative", "axis": null},
        "y": {"datum": -13, "type": "quantitative", "axis": null}
      }
    }
  ],
  "resolve": {"axis": {"x": "independent", "y": "independent"}}
}
